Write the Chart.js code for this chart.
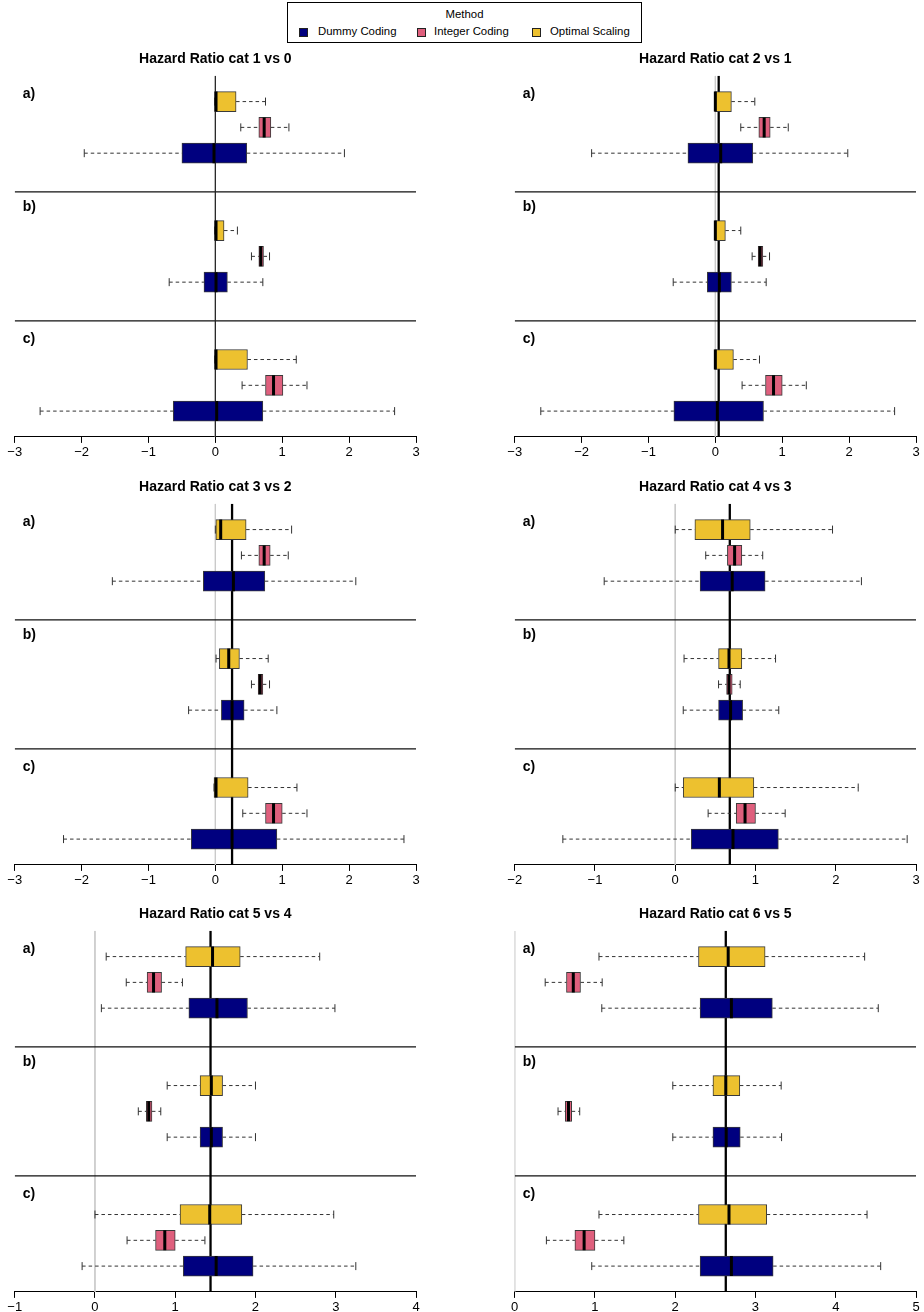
<!DOCTYPE html>
<html>
<head>
<meta charset="utf-8">
<script src="https://cdn.jsdelivr.net/npm/chart.js@4.4.1/dist/chart.umd.min.js"></script>
<style>
  body { margin: 0; background: #fff; overflow: hidden; width: 924px; height: 1312px; position: relative;
         font-family: "Liberation Sans", Arial, Helvetica, sans-serif; }
  .panel { position: absolute; width: 430px; height: 420px; }
  #legend { position: absolute; left: 287px; top: 2px; width: 353px; height: 39px; border: 1px solid #000; font-size: 11.4px; }
  #legend span { position: absolute; white-space: nowrap; line-height: 13px; }
  #legend i { position: absolute; width: 7px; height: 7px; border: 1px solid #222; top: 25px; }
</style>
</head>
<body>
<div id="legend"></div>
<div class="panel" style="left:0;top:45px"><canvas id="c0"></canvas></div>
<div class="panel" style="left:500px;top:45px"><canvas id="c1"></canvas></div>
<div class="panel" style="left:0;top:472.5px"><canvas id="c2"></canvas></div>
<div class="panel" style="left:500px;top:472.5px"><canvas id="c3"></canvas></div>
<div class="panel" style="left:0;top:900px"><canvas id="c4"></canvas></div>
<div class="panel" style="left:500px;top:900px"><canvas id="c5"></canvas></div>
<script>
// categories
const methods = ['Dummy Coding', 'Integer Coding', 'Optimal Scaling'];
const settings = ['a)', 'b)', 'c)'];
const titles = ['Hazard Ratio cat 1 vs 0', 'Hazard Ratio cat 2 vs 1', 'Hazard Ratio cat 3 vs 2',
                'Hazard Ratio cat 4 vs 3', 'Hazard Ratio cat 5 vs 4', 'Hazard Ratio cat 6 vs 5'];
const xMin = [-3, -3, -3, -2, -1, 0];
const xMax = [3, 3, 3, 3, 4, 5];
const trueValues = [0, 0.05, 0.25, 0.68, 1.44, 2.63];

// box stats per setting a), b), c): [min, q1, median, q3, max]
const p1Dummy   = [[-1.96, -0.50, -0.02, 0.47, 1.93], [-0.69, -0.17, 0.01, 0.18, 0.71], [-2.62, -0.63, 0.02, 0.71, 2.68]];
const p1Integer = [[0.38, 0.65, 0.73, 0.83, 1.10], [0.54, 0.65, 0.68, 0.72, 0.81], [0.40, 0.75, 0.87, 1.01, 1.37]];
const p1Optimal = [[-0.01, -0.01, 0.01, 0.31, 0.75], [-0.01, -0.01, 0.01, 0.13, 0.33], [-0.01, -0.01, 0.01, 0.48, 1.21]];

const p2Dummy   = [[-1.85, -0.41, 0.08, 0.56, 1.98], [-0.63, -0.12, 0.06, 0.24, 0.76], [-2.61, -0.62, 0.03, 0.72, 2.68]];
const p2Integer = [[0.38, 0.65, 0.73, 0.82, 1.09], [0.55, 0.64, 0.67, 0.71, 0.81], [0.40, 0.75, 0.87, 1.00, 1.36]];
const p2Optimal = [[-0.01, -0.01, 0.00, 0.24, 0.59], [-0.01, -0.01, 0.00, 0.15, 0.38], [-0.01, -0.01, 0.00, 0.27, 0.66]];

const p3Dummy   = [[-1.54, -0.18, 0.27, 0.74, 2.10], [-0.40, 0.09, 0.25, 0.43, 0.92], [-2.27, -0.36, 0.25, 0.92, 2.82]];
const p3Integer = [[0.39, 0.65, 0.73, 0.82, 1.09], [0.54, 0.64, 0.67, 0.71, 0.81], [0.41, 0.75, 0.87, 1.00, 1.37]];
const p3Optimal = [[0.00, 0.00, 0.08, 0.46, 1.14], [0.01, 0.06, 0.20, 0.36, 0.79], [-0.02, -0.02, 0.01, 0.49, 1.22]];

const p4Dummy   = [[-0.885, 0.31, 0.71, 1.12, 2.32], [0.10, 0.54, 0.69, 0.84, 1.29], [-1.40, 0.20, 0.72, 1.285, 2.89]];
const p4Integer = [[0.38, 0.65, 0.74, 0.83, 1.09], [0.54, 0.64, 0.67, 0.71, 0.81], [0.41, 0.76, 0.87, 1.00, 1.37]];
const p4Optimal = [[0.00, 0.245, 0.59, 0.935, 1.96], [0.11, 0.54, 0.67, 0.83, 1.25], [0.00, 0.10, 0.55, 0.98, 2.28]];

const p5Dummy   = [[0.08, 1.17, 1.52, 1.90, 2.99], [0.90, 1.31, 1.45, 1.59, 2.00], [-0.16, 1.10, 1.51, 1.97, 3.25]];
const p5Integer = [[0.39, 0.65, 0.73, 0.83, 1.09], [0.54, 0.64, 0.67, 0.71, 0.82], [0.40, 0.755, 0.87, 1.00, 1.37]];
const p5Optimal = [[0.14, 1.13, 1.465, 1.81, 2.80], [0.90, 1.31, 1.45, 1.59, 2.00], [0.00, 1.06, 1.43, 1.83, 2.975]];

const p6Dummy   = [[1.085, 2.31, 2.70, 3.21, 4.53], [1.97, 2.47, 2.635, 2.81, 3.325], [0.96, 2.31, 2.70, 3.22, 4.56]];
const p6Integer = [[0.38, 0.645, 0.73, 0.82, 1.09], [0.54, 0.63, 0.67, 0.71, 0.81], [0.395, 0.75, 0.865, 1.00, 1.36]];
const p6Optimal = [[1.05, 2.29, 2.66, 3.12, 4.36], [1.97, 2.47, 2.63, 2.805, 3.32], [1.05, 2.29, 2.67, 3.14, 4.39]];

const panels = [
  [p1Dummy, p1Integer, p1Optimal], [p2Dummy, p2Integer, p2Optimal], [p3Dummy, p3Integer, p3Optimal],
  [p4Dummy, p4Integer, p4Optimal], [p5Dummy, p5Integer, p5Optimal], [p6Dummy, p6Integer, p6Optimal]
];

// styles / layout
const FONT = '"Liberation Sans", Arial, Helvetica, sans-serif';
const colors = ['#00007f', '#df5f7d', '#edc12f'];
const trueLineWidth = [1.2, 2.3, 2.3, 2.3, 2.3, 2.3];
const trueLineColor = ['#222', '#000', '#000', '#000', '#000', '#000'];
const labelOffset = [0.7, 0.1, 0.2];
const Y_MAX = 14;
// each setting occupies 5 slots: pad, Optimal, Integer, Dummy, pad
const slot = (s, m) => s * 5 + (3 - m);

// legend
const legend = document.getElementById('legend');
legend.innerHTML = '<span style="left:0;width:353px;text-align:center;top:5px">Method</span>' +
  methods.map((m, i) => {
    const mx = [11, 129, 244][i], tx = [30, 146, 262][i];
    return `<i style="left:${mx}px;background:${colors[i]}"></i><span style="left:${tx}px;top:22px">${m}</span>`;
  }).join('');

const settingLabels = {
  id: 'settingLabels',
  afterDraw(chart) {
    const { ctx, chartArea, scales: { y } } = chart;
    ctx.save();
    ctx.font = 'bold 14px ' + FONT;
    ctx.fillStyle = '#000';
    ctx.textBaseline = 'middle';
    settings.forEach((s, i) => ctx.fillText(s, chartArea.left + 8, y.getPixelForValue(i * 5 + labelOffset[i])));
    ctx.restore();
  }
};

panels.forEach((stats, p) => {
  const ds = [];
  // reference lines: zero and true value
  ds.push({ type: 'line', data: [{ x: 0, y: 0 }, { x: 0, y: Y_MAX }], borderColor: '#cacaca', borderWidth: 1, pointRadius: 0, order: 10 });
  ds.push({ type: 'line', data: [{ x: trueValues[p], y: 0 }, { x: trueValues[p], y: Y_MAX }],
            borderColor: trueLineColor[p], borderWidth: trueLineWidth[p], pointRadius: 0, order: 9 });
  // separators between settings
  [1, 2].forEach(s => ds.push({ type: 'line', data: [{ x: xMin[p], y: s * 5 - 0.5 }, { x: xMax[p], y: s * 5 - 0.5 }],
            borderColor: '#111', borderWidth: 1.3, pointRadius: 0, order: 9 }));

  stats.forEach((st, m) => {
    ds.push({
      type: 'bar', label: methods[m],
      data: st.map((v, s) => ({ x: [v[1], v[3]], y: slot(s, m) })),
      backgroundColor: colors[m], borderColor: '#3a3a3a', borderWidth: 1, borderSkipped: false,
      barThickness: 20, grouped: false, order: 5
    });
    ds.push({
      type: 'line',
      data: st.flatMap((v, s) => [
        { x: v[0], y: slot(s, m) }, { x: v[1], y: slot(s, m) }, { x: v[1], y: null },
        { x: v[3], y: slot(s, m) }, { x: v[4], y: slot(s, m) }, { x: v[4], y: null }
      ]),
      borderColor: '#333', borderWidth: 1, borderDash: [3.5, 3], pointRadius: 0, spanGaps: false, order: 6
    });
    ds.push({
      type: 'scatter',
      data: st.flatMap((v, s) => [{ x: v[0], y: slot(s, m) }, { x: v[4], y: slot(s, m) }]),
      pointStyle: 'line', pointRotation: 90, pointRadius: 4, borderColor: '#333',
      pointBorderColor: '#333', pointBorderWidth: 1, order: 4
    });
    ds.push({
      type: 'scatter',
      data: st.map((v, s) => ({ x: v[2], y: slot(s, m) })),
      pointStyle: 'line', pointRotation: 90, pointRadius: 10, borderColor: '#000',
      pointBorderColor: '#000', pointBorderWidth: 3, order: 1
    });
  });

  new Chart(document.getElementById('c' + p), {
    type: 'bar',
    data: { datasets: ds },
    options: {
      indexAxis: 'y',
      responsive: true,
      maintainAspectRatio: false,
      animation: false,
      events: [],
      layout: { padding: { left: 14.7, right: 14, top: 0, bottom: 2.5 } },
      plugins: {
        legend: { display: false },
        tooltip: { enabled: false },
        title: { display: true, text: titles[p], color: '#000',
                 font: { family: FONT, size: 14, weight: 'bold' }, padding: { top: 6, bottom: 8 } }
      },
      scales: {
        x: {
          type: 'linear', min: xMin[p], max: xMax[p], offset: false,
          ticks: { stepSize: 1, color: '#000', padding: 2, font: { family: FONT, size: 13 },
                   callback: v => String(v).replace('-', '\u2212') },
          grid: { drawOnChartArea: false, drawTicks: true, tickLength: 6, color: '#000', offset: false },
          border: { display: true, color: '#000', width: 1 }
        },
        y: { type: 'linear', min: 0, max: Y_MAX, reverse: true, display: false, offset: false }
      }
    },
    plugins: [settingLabels]
  });
});
</script>
</body>
</html>
